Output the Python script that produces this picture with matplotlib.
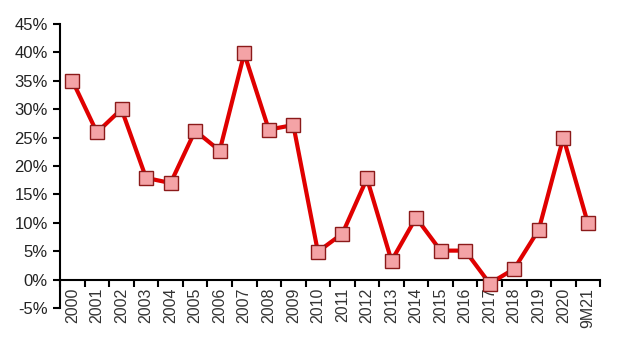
import numpy as np
import matplotlib
matplotlib.use("Agg")
import matplotlib.pyplot as plt

plt.rcParams["font.family"] = ["Liberation Sans", "DejaVu Sans"]

years = ["2000", "2001", "2002", "2003", "2004", "2005", "2006", "2007",
         "2008", "2009", "2010", "2011", "2012", "2013", "2014", "2015",
         "2016", "2017", "2018", "2019", "2020", "9M21"]
growth = [35.0, 25.9, 30.0, 17.9, 17.0, 26.2, 22.7, 39.8, 26.4, 27.2, 4.9,
          8.1, 17.8, 3.3, 10.9, 5.1, 5.1, -0.7, 1.9, 8.8, 25.0, 9.9]
y_ticks = [-5, 0, 5, 10, 15, 20, 25, 30, 35, 40, 45]

fig = plt.figure(figsize=(6.2, 3.52), dpi=100)
ax = fig.add_axes([0.097, 0.125, 0.871, 0.807])

x = np.arange(len(years))
ax.plot(x, growth, color="#e00000", linewidth=3.0, marker="s",
        markersize=10, markerfacecolor="#f4a3a6", markeredgecolor="#8b1a1a",
        markeredgewidth=1.0, zorder=3, clip_on=False)

ax.set_xlim(-0.5, len(years) - 0.5)
ax.set_ylim(-5, 45)
ax.set_yticks(y_ticks)
ax.set_yticklabels([f"{v}%" for v in y_ticks])

ax.set_xticks(x)
ax.set_xticklabels(years)
ax.set_xticks(np.arange(-0.5, len(years), 1.0), minor=True)
ax.tick_params(axis="x", which="major", length=0, pad=6, labelrotation=90,
               labelsize=11.5, labelcolor="#333333")
ax.tick_params(axis="x", which="minor", length=5, width=1.5, direction="out")
ax.tick_params(axis="y", length=5, width=1.5, direction="out", pad=4,
               labelsize=12, labelcolor="#222222")

for side in ["top", "right"]:
    ax.spines[side].set_visible(False)
ax.spines["bottom"].set_position(("data", 0))
ax.spines["left"].set_linewidth(1.5)
ax.spines["bottom"].set_linewidth(1.5)

fig.savefig("out.png", dpi=100)
